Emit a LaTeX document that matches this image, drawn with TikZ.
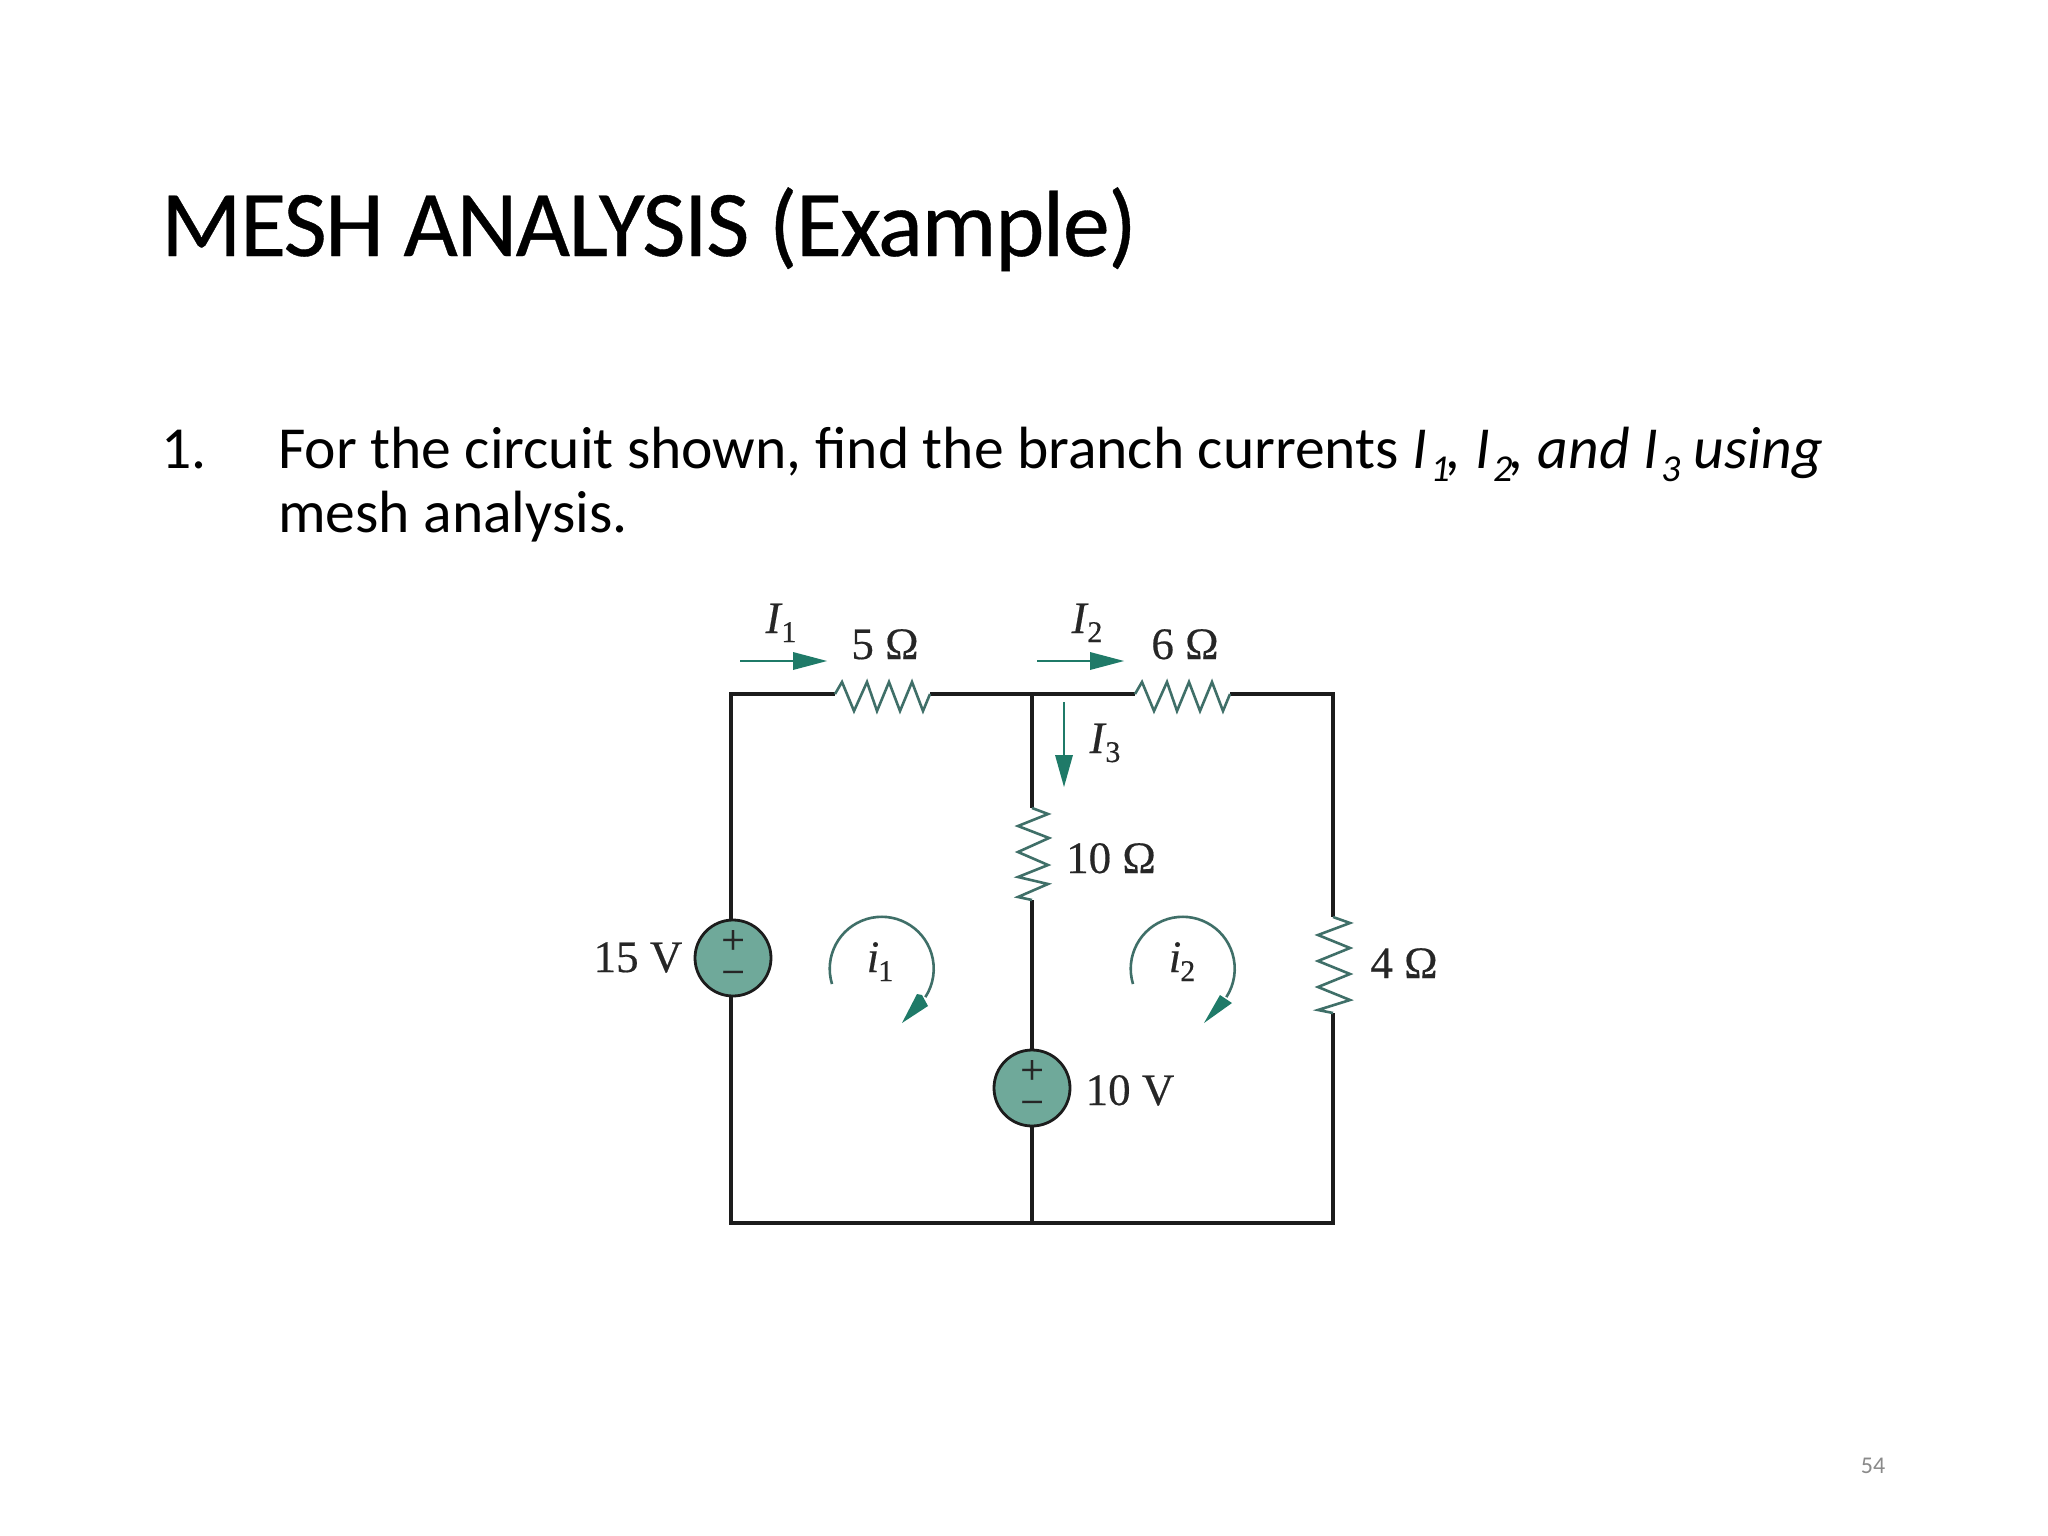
\documentclass[tikz,border=0pt]{standalone}
\usepackage{fontspec}
\setmainfont{Carlito}
\newfontfamily\circfont[FakeBold=0.4]{Liberation Serif}
\definecolor{teal1}{HTML}{1F7A68}
\definecolor{srcfill}{HTML}{6FA99A}
\definecolor{wirec}{HTML}{1C1C1C}
\definecolor{resc}{HTML}{3F6F68}
\definecolor{numgray}{HTML}{8A8A8A}
\tikzset{
  x=1pt,y=-1pt,
  wire/.style={draw=wirec,line width=3.4pt},
  zig/.style={draw=resc,line width=2.6pt,line join=miter},
  curarrow/.style={draw=teal1,line width=2.4pt},
  curhead/.style={fill=teal1,draw=none},
  loopline/.style={draw=resc,line width=2.6pt},
  src/.style={circle,draw=wirec,line width=2.8pt,fill=srcfill,minimum size=76pt,inner sep=0pt,align=center,text=black!85,font=\circfont\fontsize{42}{32}\selectfont},
  ctext/.style={inner sep=0pt,anchor=base,font=\circfont\fontsize{45}{45}\selectfont,text=black!85},
  txt/.style={inner sep=0pt,anchor=base west,text=black},
}
\newcommand{\curlab}[2]{\textit{#1}\kern-1pt\raisebox{-9pt}{\fontsize{30}{30}\selectfont #2}}
\newcommand{\itsub}[1]{\kern3pt\raisebox{-13pt}{\fontsize{38}{38}\selectfont #1}}
\begin{document}
\begin{tikzpicture}
\useasboundingbox[fill=white] (0,0) rectangle (2048,1536);
% text
\node[txt,font=\fontsize{94}{94}\selectfont] (title) at (161,256) {\addfontfeature{LetterSpace=-1.6,FakeBold=0.4}MESH ANALYSIS (Example)};
\node[txt,font=\fontsize{59.6}{60}\selectfont] (num) at (161,468) {1.};
\node[txt,font=\fontsize{59.6}{60}\selectfont] (line1) at (278,468) {For the circuit shown, find the branch currents \textit{I\itsub{1}\kern-3pt, I\itsub{2}\kern-3pt, and I\itsub{3} using}};
\node[txt,font=\fontsize{59.6}{60}\selectfont] (line2) at (278,532) {mesh analysis.};
\node[inner sep=0pt,font=\fontsize{24}{24}\selectfont,text=numgray] (page) at (1873,1466) {54};
% key points
\coordinate (tl) at (731,694);
\coordinate (tm) at (1032,694);
\coordinate (tr) at (1333,694);
\coordinate (bl) at (731,1223);
\coordinate (bm) at (1032,1223);
\coordinate (br) at (1333,1223);
\coordinate (r5a) at (835,694);
\coordinate (r5b) at (930,694);
\coordinate (r6a) at (1135,694);
\coordinate (r6b) at (1230,694);
\coordinate (r10a) at (1032,808);
\coordinate (r10b) at (1032,900);
\coordinate (r4a) at (1333,917);
\coordinate (r4b) at (1333,1013);
% wires
\draw[wire] (tl |- 0,958) -- (tl) -- (r5a);
\draw[wire] (r5b) -- (tm) -- (r6a);
\draw[wire] (r6b) -- (tr) -- (r4a);
\draw[wire] (tm) -- (r10a);
\draw[wire] (r10b) -- (bm);
\draw[wire] (tl |- 0,958) -- (bl) -- (bm) -- (br) -- (r4b);
% sources
\node[src] (s15) at (733,958) {+\\−};
\node[src] (s10) at (1032,1088) {+\\−};
% resistors
\draw[zig] (r5a) -- ++(7,-12) -- ++(12,29) -- ++(13,-29) -- ++(10,29) -- ++(12,-29) -- ++(11,29) -- ++(12,-29) -- ++(11,29) -- (r5b);
\draw[zig] (r6a) -- ++(7,-12) -- ++(12,29) -- ++(13,-29) -- ++(10,29) -- ++(12,-29) -- ++(11,29) -- ++(12,-29) -- ++(11,29) -- (r6b);
\draw[zig] (r10a) -- ++(16,6) -- ++(-30,12) -- ++(31,12) -- ++(-31,14) -- ++(30,13) -- ++(-30,12) -- ++(30,7) -- ++(-30,13) -- (r10b);
\draw[zig] (r4a) -- ++(17,6) -- ++(-32,12) -- ++(32,13) -- ++(-32,13) -- ++(32,13) -- ++(-32,13) -- ++(32,13) -- ++(-32,10) -- (r4b);
% current arrows
\coordinate (i1s) at (740,661); \coordinate (i1t) at (827,661);
\draw[curarrow] (i1s) -- (793,661);
\fill[curhead] (i1t) -- (793,652) -- (793,670) -- cycle;
\coordinate (i2s) at (1037,661); \coordinate (i2t) at (1124,661);
\draw[curarrow] (i2s) -- (1090,661);
\fill[curhead] (i2t) -- (1090,652) -- (1090,670) -- cycle;
\coordinate (i3s) at (1064,702); \coordinate (i3t) at (1064,787);
\draw[curarrow] (i3s) -- (1064,755);
\fill[curhead] (i3t) -- (1055,755) -- (1073,755) -- cycle;
% mesh arrows
\draw[loopline] (832,984) arc[start angle=197,end angle=-33,x radius=52,y radius=-52];
\fill[curhead] (902,1023) -- (928,1006) -- (922,995) -- (917,994) -- cycle;
\draw[loopline] (1133,984) arc[start angle=197,end angle=-33,x radius=52,y radius=-52];
\fill[curhead] (1204,1023) -- (1232,1003) -- (1220,995) -- cycle;
% circuit labels
\node[ctext] (l15) at (638,972) {15 V};
\node[ctext] (l10) at (1130,1105) {10 V};
\node[ctext] (l5) at (885,659) {5 Ω};
\node[ctext] (l6) at (1185,659) {6 Ω};
\node[ctext] (l10o) at (1111,873) {10 Ω};
\node[ctext] (l4) at (1404,978) {4 Ω};
\node[ctext] (c1) at (781,633) {\curlab{I}{1}};
\node[ctext] (c2) at (1087,633) {\curlab{I}{2}};
\node[ctext] (c3) at (1105,753) {\curlab{I}{3}};
\node[ctext] (n1) at (880,972) {\curlab{i}{1}};
\node[ctext] (n2) at (1182,972) {\curlab{i}{2}};
\end{tikzpicture}
\end{document}
